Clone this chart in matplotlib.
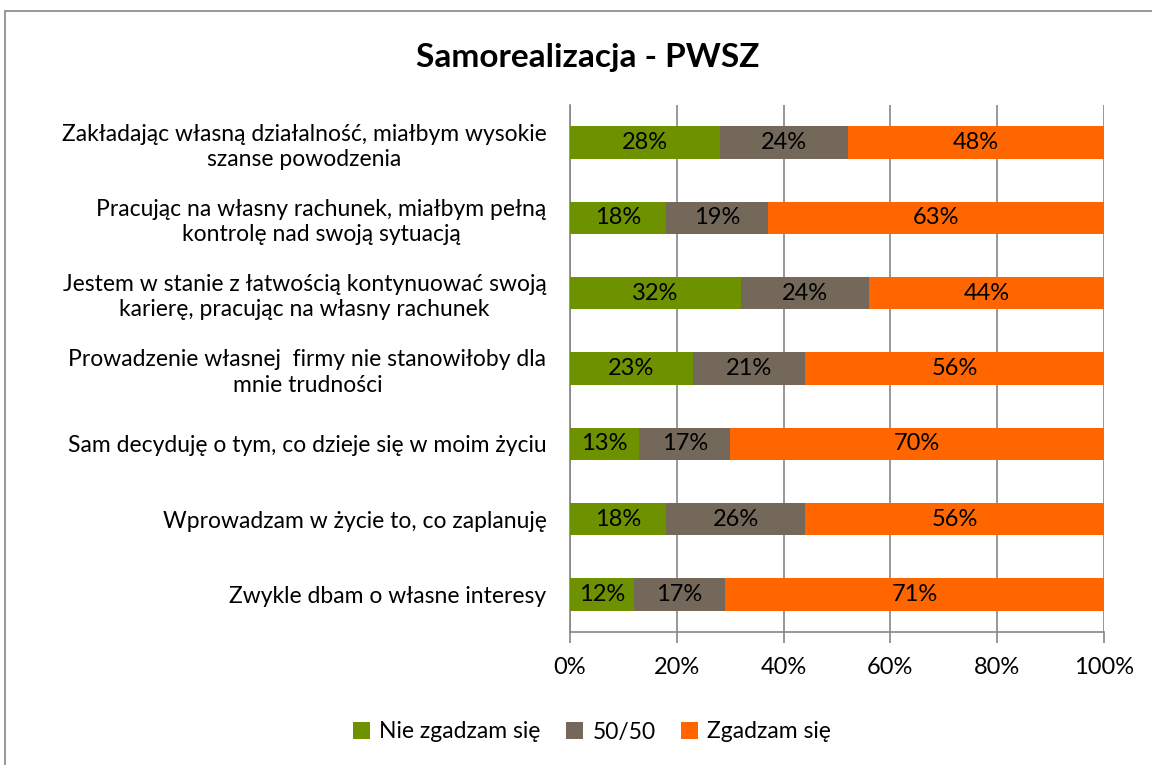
import numpy as np
import matplotlib.pyplot as plt
from matplotlib.patches import Rectangle

plt.rcParams['font.family'] = ['Lato', 'DejaVu Sans']

# Data
categories = [
    'Zakładając własną działalność, miałbym wysokie\nszanse powodzenia',
    'Pracując na własny rachunek, miałbym pełną\nkontrolę nad swoją sytuacją',
    'Jestem w stanie z łatwością kontynuować swoją\nkarierę, pracując na własny rachunek',
    'Prowadzenie własnej  firmy nie stanowiłoby dla\nmnie trudności',
    'Sam decyduję o tym, co dzieje się w moim życiu',
    'Wprowadzam w życie to, co zaplanuję',
    'Zwykle dbam o własne interesy',
]
nie_zgadzam = [28, 18, 32, 23, 13, 18, 12]
fifty = [24, 19, 24, 21, 17, 26, 17]
zgadzam = [48, 63, 44, 56, 70, 56, 71]
series_names = ['Nie zgadzam się', '50/50', 'Zgadzam się']
colors = ['#6E9100', '#736859', '#FF6600']
xticks = [0, 20, 40, 60, 80, 100]

fig = plt.figure(figsize=(11.52, 7.65), dpi=100)
ax = fig.add_axes([570 / 1152, 1 - 632 / 765, (1104 - 570) / 1152, (632 - 105) / 765])

# Chart border
fig.patches.append(Rectangle((5 / 1152, -0.01), 1.02, 1 - 11 / 765 + 0.01,
                             transform=fig.transFigure, fill=False,
                             edgecolor='#868686', linewidth=1.2))

y = np.arange(len(categories))
left = np.zeros(len(categories))
for vals, name, c in zip([nie_zgadzam, fifty, zgadzam], series_names, colors):
    bars = ax.barh(y, vals, left=left, height=0.43, color=c, label=name, zorder=3)
    for b, v in zip(bars, vals):
        ax.text(b.get_x() + b.get_width() / 2, b.get_y() + b.get_height() / 2,
                f'{v}%', ha='center', va='center', fontsize=17, color='black', zorder=4)
    left += np.array(vals)

ax.set_ylim(len(categories) - 0.5, -0.5)
ax.set_xlim(0, 100)
ax.set_xticks(xticks)
ax.set_xticklabels([f'{t}%' for t in xticks], fontsize=17)
ax.set_yticks(y)
ax.set_yticklabels(categories, fontsize=16.5, multialignment='center', linespacing=1.25)
ax.tick_params(axis='y', length=0, pad=17)
ax.tick_params(axis='x', length=8, color='#868686', width=1.2, pad=10)
ax.grid(axis='x', color='#868686', linewidth=1.2, zorder=0)
for s in ['top', 'right']:
    ax.spines[s].set_visible(False)
for s in ['left', 'bottom']:
    ax.spines[s].set_color('#868686')
    ax.spines[s].set_linewidth(1.2)

fig.text(588 / 1152, 1 - 57 / 765, 'Samorealizacja - PWSZ', ha='center', va='center',
         fontsize=24, fontweight='bold')

fig.legend(loc='center', bbox_to_anchor=(592 / 1152, 1 - 732 / 765), ncol=3,
           frameon=False, fontsize=16.5, handlelength=0.75, handleheight=0.75,
           handletextpad=0.4, columnspacing=1.1)

fig.savefig('out.png', dpi=100)
